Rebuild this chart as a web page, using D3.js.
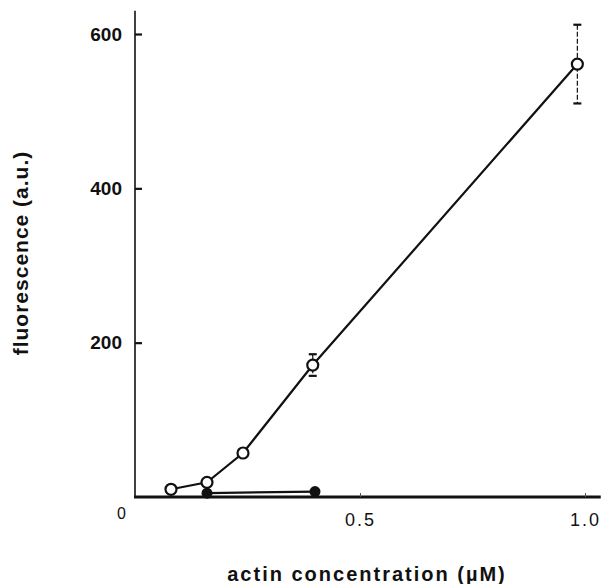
<!DOCTYPE html>
<html>
<head>
<meta charset="utf-8">
<script src="https://cdn.jsdelivr.net/npm/d3@7"></script>
<style>
  body { margin: 0; background: #fff; }
  text { font-family: "Liberation Sans", Arial, sans-serif; fill: #111; }
</style>
</head>
<body>
<script>
// open circles: actin alone
var openX = [0.08, 0.16, 0.24, 0.395, 0.983];
var openY = [10, 19, 57, 171, 561];
var openErr = [0, 0, 0, 14, 51];
// filled circles
var filledX = [0.16, 0.4];
var filledY = [5, 7];

var yTicks = [200, 400, 600];
var xTicks = [0, 0.5, 1.0];
var xTickLabels = ["0", "0.5", "1.0"];

var width = 603, height = 584;

var x = d3.scaleLinear().domain([0, 1]).range([135, 585]);
var y = d3.scaleLinear().domain([0, 600]).range([497, 34]);

var svg = d3.select("body").append("svg")
    .attr("width", width)
    .attr("height", height);

// axis lines (longer than the domain, like the original)
svg.append("line")
    .attr("x1", x(0)).attr("x2", x(0))
    .attr("y1", y(0) + 1).attr("y2", y(630))
    .attr("stroke", "#111").attr("stroke-width", 1.6);
svg.append("line")
    .attr("x1", x(0) - 1).attr("x2", x(1.035))
    .attr("y1", y(0)).attr("y2", y(0))
    .attr("stroke", "#111").attr("stroke-width", 3);

var yAxis = d3.axisLeft(y)
    .tickValues(yTicks)
    .tickSizeInner(-7)
    .tickSizeOuter(0)
    .tickPadding(13)
    .tickFormat(d3.format("d"));

var gy = svg.append("g")
    .attr("transform", "translate(" + x(0) + ",0)")
    .call(yAxis);
gy.select(".domain").remove();
gy.selectAll(".tick line").attr("stroke", "#111").attr("stroke-width", 2.2);
gy.selectAll(".tick text")
    .attr("font-size", 19)
    .attr("font-weight", "bold")
    .style("font-family", "'Liberation Sans', Arial, sans-serif");

var xAxis = d3.axisBottom(x)
    .tickValues(xTicks)
    .tickSizeInner(-4)
    .tickSizeOuter(0)
    .tickPadding(16)
    .tickFormat(function(d, i){ return xTickLabels[i]; });

var gx = svg.append("g")
    .attr("transform", "translate(0," + y(0) + ")")
    .call(xAxis);
gx.select(".domain").remove();
gx.selectAll(".tick line").attr("stroke", "#555").attr("stroke-width", 1);
gx.selectAll(".tick text")
    .attr("font-size", 18)
    .attr("letter-spacing", "2px")
    .style("font-family", "'Liberation Sans', Arial, sans-serif");
// the shared origin label sits left of the corner, a little higher and smaller
var zeroTick = gx.selectAll(".tick").filter(function(d){ return d === 0; });
zeroTick.select("line").remove();
zeroTick.select("text")
    .attr("dx", -14)
    .attr("y", 11)
    .attr("font-size", 16)
    .attr("letter-spacing", null);

// axis titles
svg.append("text")
    .attr("transform", "translate(28,253) rotate(-90)")
    .attr("text-anchor", "middle")
    .attr("font-size", 21)
    .attr("font-weight", "bold")
    .attr("letter-spacing", "1px")
    .text("fluorescence (a.u.)");

svg.append("text")
    .attr("x", 367).attr("y", 581)
    .attr("text-anchor", "middle")
    .attr("font-size", 20)
    .attr("font-weight", 600)
    .attr("letter-spacing", "2px")
    .text("actin concentration (\u00b5M)");

var openData = openX.map(function(d, i){ return {x: d, y: openY[i], e: openErr[i]}; });
var filledData = filledX.map(function(d, i){ return {x: d, y: filledY[i]}; });

var line = d3.line()
    .x(function(d){ return x(d.x); })
    .y(function(d){ return y(d.y); });

// error bars
var eb = svg.append("g").selectAll("g")
    .data(openData.filter(function(d){ return d.e > 0; }))
    .enter().append("g");
eb.append("line")
    .attr("x1", function(d){ return x(d.x); })
    .attr("x2", function(d){ return x(d.x); })
    .attr("y1", function(d){ return y(d.y + d.e); })
    .attr("y2", function(d){ return y(d.y - d.e); })
    .attr("stroke", "#111").attr("stroke-width", 1.2)
    .attr("stroke-dasharray", "5,2");
eb.selectAll("line.cap")
    .data(function(d){ return [d.y + d.e, d.y - d.e].map(function(v){ return {x: d.x, v: v}; }); })
    .enter().append("line")
    .attr("class", "cap")
    .attr("x1", function(d){ return x(d.x) - 4; })
    .attr("x2", function(d){ return x(d.x) + 4; })
    .attr("y1", function(d){ return y(d.v); })
    .attr("y2", function(d){ return y(d.v); })
    .attr("stroke", "#111").attr("stroke-width", 2.2);

svg.append("path")
    .datum(filledData)
    .attr("d", line)
    .attr("fill", "none")
    .attr("stroke", "#111")
    .attr("stroke-width", 2.2);

svg.append("path")
    .datum(openData)
    .attr("d", line)
    .attr("fill", "none")
    .attr("stroke", "#111")
    .attr("stroke-width", 2.2);

svg.append("g").selectAll("circle")
    .data(filledData)
    .enter().append("circle")
    .attr("cx", function(d){ return x(d.x); })
    .attr("cy", function(d){ return y(d.y); })
    .attr("r", 5.5)
    .attr("fill", "#111");

svg.append("g").selectAll("circle")
    .data(openData)
    .enter().append("circle")
    .attr("cx", function(d){ return x(d.x); })
    .attr("cy", function(d){ return y(d.y); })
    .attr("r", 5.5)
    .attr("fill", "#fff")
    .attr("stroke", "#111")
    .attr("stroke-width", 2.2);
</script>
</body>
</html>
